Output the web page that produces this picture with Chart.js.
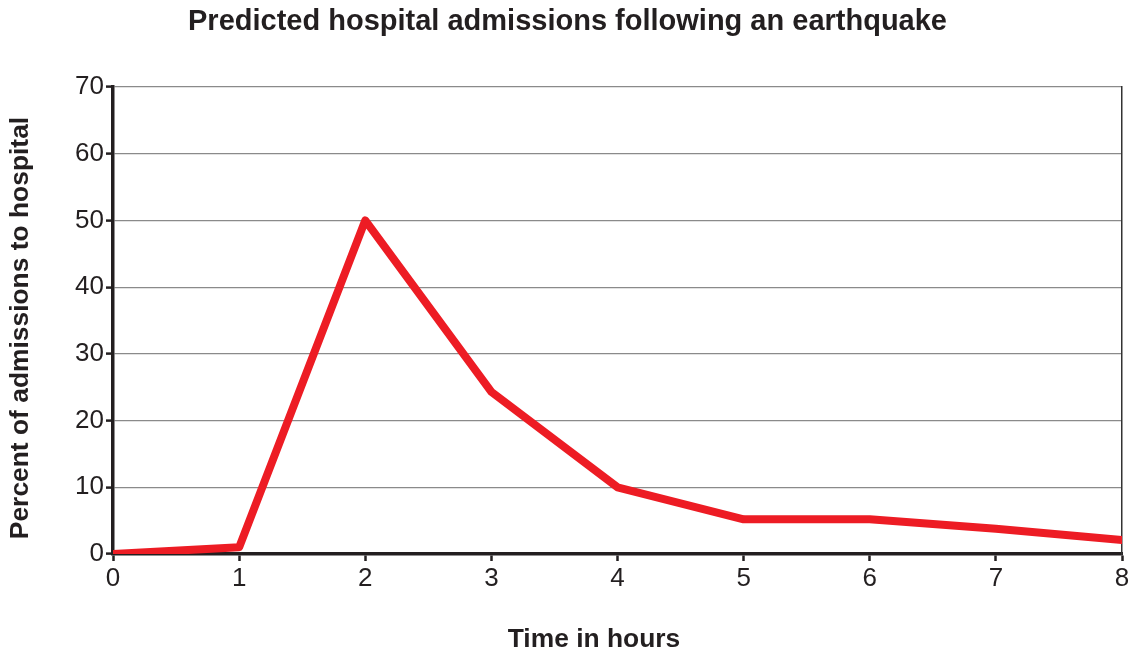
<!DOCTYPE html>
<html>
<head>
<meta charset="utf-8">
<script src="https://cdn.jsdelivr.net/npm/chart.js@4/dist/chart.umd.min.js"></script>
<style>
  html, body { margin: 0; padding: 0; background: #ffffff; }
  #wrap { width: 1135px; height: 657px; position: relative; }
</style>
</head>
<body>
<div id="wrap"><canvas id="c" width="1135" height="657"></canvas></div>
<script>
const chartTitle = "Predicted hospital admissions following an earthquake";
const xAxisTitle = "Time in hours";
const yAxisTitle = "Percent of admissions to hospital";
const hours = [0, 1, 2, 3, 4, 5, 6, 7, 8];
const admissions = [0, 1, 50, 24.3, 10, 5.2, 5.2, 3.8, 2.1];
const yTicks = [0, 10, 20, 30, 40, 50, 60, 70];

const points = hours.map((h, i) => ({ x: h, y: admissions[i] }));
const ink = '#231f20';
const fam = '"Liberation Sans", Arial, sans-serif';

const axisTitles = {
  id: 'axisTitles',
  afterDraw(chart) {
    const { ctx } = chart;
    ctx.save();
    ctx.fillStyle = ink;
    ctx.font = 'bold 26.4px ' + fam;
    ctx.textAlign = 'center';
    ctx.textBaseline = 'middle';
    ctx.fillText(xAxisTitle, 594, 640);
    ctx.translate(21, 328);
    ctx.rotate(-Math.PI / 2);
    ctx.fillText(yAxisTitle, 0, 0);
    ctx.restore();
  }
};

new Chart(document.getElementById('c'), {
  type: 'line',
  data: {
    datasets: [{
      data: points,
      borderColor: '#ed1c24',
      borderWidth: 8,
      borderCapStyle: 'round',
      borderJoinStyle: 'round',
      pointRadius: 0,
      tension: 0,
      fill: false
    }]
  },
  options: {
    responsive: false,
    animation: false,
    layout: { padding: 0 },
    plugins: {
      legend: { display: false },
      tooltip: { enabled: false },
      title: {
        display: true,
        text: chartTitle,
        color: ink,
        font: { family: fam, size: 29, weight: 'bold' },
        padding: { top: 4.6, bottom: 47.6 }
      }
    },
    scales: {
      x: {
        type: 'linear',
        min: 0, max: 8,
        afterFit(s) { s.height = 103; },
        ticks: {
          stepSize: 1,
          color: ink,
          padding: 2,
          font: { family: fam, size: 26 }
        },
        grid: { drawOnChartArea: false, drawTicks: true, tickLength: 7, tickColor: ink, tickWidth: 2.5 },
        border: { display: true, color: ink, width: 3.5 }
      },
      y: {
        min: 0, max: 70,
        afterFit(s) { s.width = 113; },
        afterBuildTicks(s) { s.ticks = yTicks.map(v => ({ value: v })); },
        ticks: {
          color: ink,
          padding: 2,
          font: { family: fam, size: 26 }
        },
        grid: { color: '#8a8a8a', lineWidth: 1.2, tickLength: 7, tickColor: ink, tickWidth: 2.5 },
        border: { display: true, color: ink, width: 3.5 }
      },
      yr: {
        position: 'right',
        min: 0, max: 70,
        afterFit(s) { s.width = 13; },
        ticks: { display: false },
        grid: { display: false },
        border: { display: true, color: '#333333', width: 1.5 }
      }
    }
  },
  plugins: [axisTitles]
});
</script>
</body>
</html>
